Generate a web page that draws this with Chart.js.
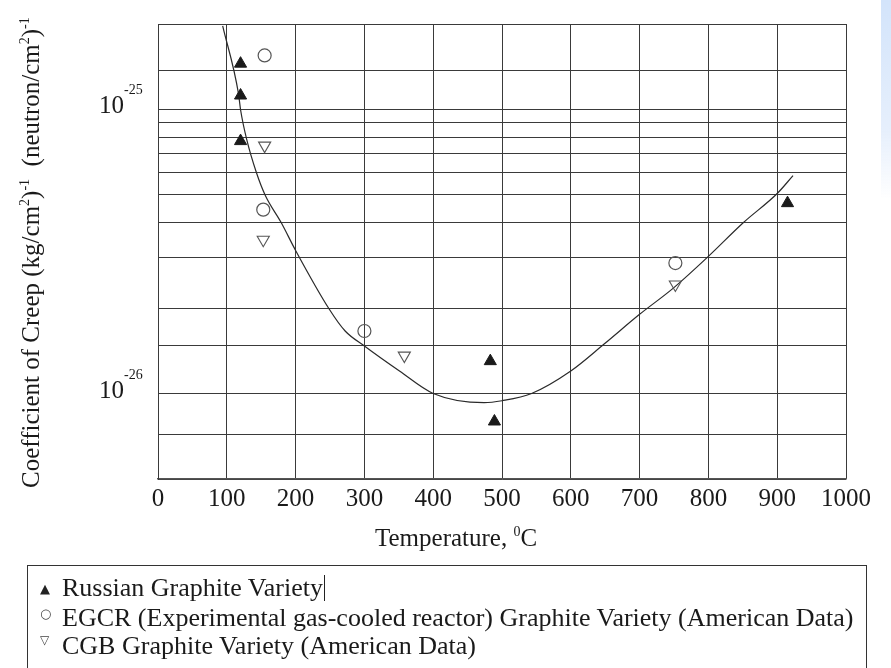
<!DOCTYPE html>
<html>
<head>
<meta charset="utf-8">
<title>Coefficient of Creep vs Temperature</title>
<script src="https://cdn.jsdelivr.net/npm/chart.js@4.4.1/dist/chart.umd.min.js"></script>
<style>
  html, body { margin: 0; padding: 0; background: #fff; }
  body { width: 891px; height: 668px; position: relative; overflow: hidden; font-family: 'Liberation Serif', 'Times New Roman', serif; color: #1a1a1a; }
  #chart { position: absolute; left: 0; top: 0; }
  .edge { position: absolute; right: 0; top: 0; width: 10px; height: 200px; background: linear-gradient(#d3e4fb, #e6effc 65%, rgba(255,255,255,0)); }
  .legend { position: absolute; left: 27px; top: 565px; width: 838px; height: 130px; border: 1px solid #333; font-size: 26px; }
  .legend .row { position: absolute; left: 34px; height: 29px; line-height: 29px; white-space: nowrap; }
  .legend .sym { position: absolute; left: 12px; font-family: 'DejaVu Sans', sans-serif; color: #222; }
  .cursor { display: inline-block; width: 0; height: 26px; border-right: 1px solid #222; vertical-align: -5px; margin-left: 1px; }
</style>
</head>
<body>
<canvas id="chart" width="891" height="668"></canvas>
<div class="edge"></div>
<div class="legend">
  <span class="sym" style="top:15px; font-size:13px;">&#9650;</span>
  <div class="row" style="top:7px;">Russian Graphite Variety<span class="cursor"></span></div>
  <span class="sym" style="top:40px; font-size:13px; color:#444;">&#9675;</span>
  <div class="row" style="top:37px;">EGCR (Experimental gas-cooled reactor) Graphite Variety (American Data)</div>
  <span class="sym" style="top:67px; font-size:12px; color:#444;">&#9661;</span>
  <div class="row" style="top:65px;">CGB Graphite Variety (American Data)</div>
</div>
<script>
// temperatures in deg C, creep coefficients in (kg/cm2)^-1 (neutron/cm2)^-1
const russianT = [120, 120, 120, 483, 489, 915];
const russianV = [1.45e-25, 1.12e-25, 7.74e-26, 1.30e-26, 7.97e-27, 4.68e-26];

const egcrT = [155, 153, 300, 752];
const egcrV = [1.55e-25, 4.44e-26, 1.66e-26, 2.88e-26];

const cgbT = [155, 153, 358, 752];
const cgbV = [7.46e-26, 3.48e-26, 1.36e-26, 2.42e-26];

// fitted trend line
const curveT = [94, 117, 120, 129, 143, 156, 179, 200, 249, 272, 300, 351, 400, 474, 500, 543, 600, 648, 700, 749, 800, 851, 900, 923];
const curveV = [1.97e-25, 1.136e-25, 9.98e-26, 7.83e-26, 6.0e-26, 4.98e-26, 4.0e-26, 3.19e-26, 1.98e-26, 1.66e-26,
                1.47e-26, 1.20e-26, 1.0e-26, 9.28e-27, 9.43e-27, 1.0e-26, 1.20e-26, 1.49e-26, 1.90e-26, 2.35e-26,
                3.04e-26, 4.0e-26, 5.06e-26, 5.85e-26];

// horizontal rules of the log grid
const yGrid = [5e-27, 7.15e-27, 1e-26, 1.48e-26, 2e-26, 3e-26, 4e-26, 5e-26, 6e-26, 7e-26, 8e-26, 9e-26, 1e-25, 1.37e-25, 2e-25];
const yLabels = [1e-25, 1e-26];

const pts = (xs, ys) => xs.map((x, i) => ({ x: x, y: ys[i] }));

const SERIF = '"Liberation Serif", "Times New Roman", serif';

// draw a run of text pieces, some raised as superscripts
function drawRich(ctx, parts, x, y, size) {
  let cx = x;
  parts.forEach(p => {
    ctx.font = (p[1] ? Math.round(size * 0.58) : size) + 'px ' + SERIF;
    ctx.fillText(p[0], cx, p[1] ? y - size * 0.42 : y);
    cx += ctx.measureText(p[0]).width;
  });
}

const labelsPlugin = {
  id: 'labels',
  afterDraw(chart) {
    const ctx = chart.ctx;
    const yScale = chart.scales.y;
    ctx.save();
    ctx.fillStyle = '#1a1a1a';
    ctx.textAlign = 'left';
    ctx.textBaseline = 'alphabetic';

    // y tick labels: 10^-25, 10^-26
    yLabels.forEach(v => {
      const py = yScale.getPixelForValue(v);
      const exp = Math.round(Math.log10(v));
      ctx.font = '25px ' + SERIF;
      const w = ctx.measureText('10').width;
      ctx.fillText('10', 124 - w, py + 4);
      ctx.font = '14px ' + SERIF;
      ctx.fillText(String(exp), 124, py - 15);
    });

    // x axis title
    const xt = [['Temperature, ', false], ['0', true], ['C', false]];
    drawRich(ctx, xt, 375, 546, 25);

    // y axis title, rotated
    const yt = [['Coefficient of Creep (kg/cm', false], ['2', true], [')', false], ['-1', true],
                ['  (neutron/cm', false], ['2', true], [')', false], ['-1', true]];
    ctx.translate(39, 488);
    ctx.rotate(-Math.PI / 2);
    drawRich(ctx, yt, 0, 0, 25);
    ctx.restore();
  }
};

const gridColor = '#3a3a3a';

new Chart(document.getElementById('chart'), {
  type: 'scatter',
  data: {
    datasets: [
      {
        label: 'Russian Graphite Variety',
        data: pts(russianT, russianV),
        pointStyle: 'triangle',
        pointRadius: 7,
        backgroundColor: '#1a1a1a',
        borderColor: '#1a1a1a',
        borderWidth: 1
      },
      {
        label: 'EGCR (Experimental gas-cooled reactor) Graphite Variety (American Data)',
        data: pts(egcrT, egcrV),
        pointStyle: 'circle',
        pointRadius: 6.5,
        backgroundColor: 'rgba(255,255,255,0)',
        borderColor: '#555',
        borderWidth: 1.2
      },
      {
        label: 'CGB Graphite Variety (American Data)',
        data: pts(cgbT, cgbV),
        pointStyle: 'triangle',
        pointRotation: 180,
        pointRadius: 7,
        backgroundColor: 'rgba(255,255,255,0)',
        borderColor: '#555',
        borderWidth: 1.1
      },
      {
        label: 'trend',
        data: pts(curveT, curveV),
        showLine: true,
        cubicInterpolationMode: 'monotone',
        pointRadius: 0,
        borderColor: '#2a2a2a',
        borderWidth: 1.2,
        fill: false
      }
    ]
  },
  options: {
    responsive: false,
    animation: false,
    layout: { padding: { top: 24, right: 45, left: 0, bottom: 0 } },
    plugins: {
      legend: { display: false },
      tooltip: { enabled: false }
    },
    scales: {
      x: {
        type: 'linear',
        min: 0,
        max: 1000,
        ticks: {
          stepSize: 100,
          padding: 5,
          color: '#1a1a1a',
          font: { family: SERIF, size: 25 },
          callback: v => String(v)
        },
        grid: { color: gridColor, lineWidth: 1, drawTicks: false },
        border: { color: '#555', width: 1.5 },
        afterFit(scale) { scale.height = 189; }
      },
      y: {
        type: 'logarithmic',
        min: 5e-27,
        max: 2e-25,
        ticks: { display: false },
        afterBuildTicks(scale) { scale.ticks = yGrid.map(v => ({ value: v })); },
        grid: { color: gridColor, lineWidth: 1, drawTicks: false },
        border: { color: gridColor, width: 1 },
        afterFit(scale) { scale.width = 158; }
      }
    }
  },
  plugins: [labelsPlugin]
});
</script>
</body>
</html>
